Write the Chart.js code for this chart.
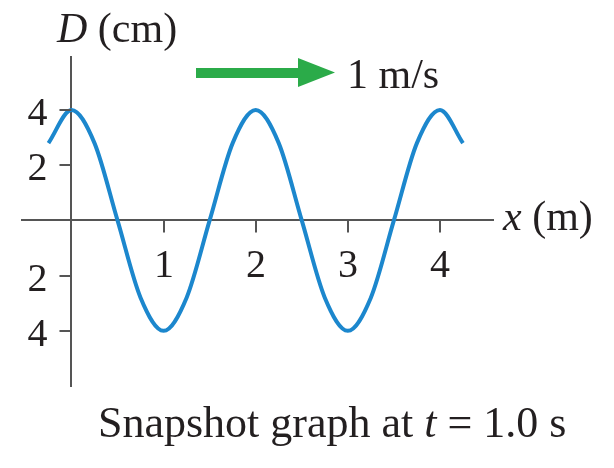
<!DOCTYPE html>
<html lang="en">
<head>
  <meta charset="UTF-8">
  <title>Snapshot graph</title>
  <style>
    body {
      margin: 0;
      padding: 0;
      background-color: #fff;
    }

    canvas {
      display: block;
    }
  </style>
</head>
<body>

  <canvas id="waveChart" width="614" height="468"></canvas>

  <script src="https://cdn.jsdelivr.net/npm/chart.js"></script>
  <script>
    // positions along the string (m) and displacement (cm)
    const positions = [-0.25, 0, 0.25, 0.5, 0.75, 1, 1.25, 1.5, 1.75, 2, 2.25, 2.5, 2.75, 3, 3.25, 3.5, 3.75, 4, 4.25];
    const displacement = [2.8, 4, 2.8, 0, -2.8, -4, -2.8, 0, 2.8, 4, 2.8, 0, -2.8, -4, -2.8, 0, 2.8, 4, 2.8];

    const xTicks = [1, 2, 3, 4];
    const yTicks = [4, 2, -2, -4];

    const serif = "'Liberation Serif', 'DejaVu Serif', serif";
    const axisColor = '#555';
    const textColor = '#231f20';

    // the axes cross at the origin, so Chart.js puts no tick marks or labels
    // beside them; draw those here from the scales
    const crossTicks = {
      id: 'crossTicks',
      afterDraw(chart) {
        const ctx = chart.ctx;
        const xs = chart.scales.x;
        const ys = chart.scales.y;
        const x0 = xs.getPixelForValue(0);
        const y0 = ys.getPixelForValue(0);
        ctx.save();
        ctx.strokeStyle = axisColor;
        ctx.lineWidth = 2;
        ctx.fillStyle = textColor;
        ctx.font = '40px ' + serif;
        ctx.textBaseline = 'alphabetic';

        ctx.textAlign = 'center';
        xTicks.forEach(v => {
          const px = Math.round(xs.getPixelForValue(v));
          ctx.beginPath();
          ctx.moveTo(px, y0);
          ctx.lineTo(px, y0 + 12);
          ctx.stroke();
          ctx.fillText(String(v), px, y0 + 57);
        });

        ctx.textAlign = 'right';
        yTicks.forEach(v => {
          const py = Math.round(ys.getPixelForValue(v));
          ctx.beginPath();
          ctx.moveTo(x0, py);
          ctx.lineTo(x0 - 12, py);
          ctx.stroke();
          ctx.fillText(String(Math.abs(v)), x0 - 24, py + 15);
        });
        ctx.restore();
      }
    };

    // axis titles, velocity arrow and caption
    const labelsPlugin = {
      id: 'labels',
      afterDraw(chart) {
        const ctx = chart.ctx;
        ctx.save();
        ctx.fillStyle = textColor;
        ctx.textBaseline = 'alphabetic';
        ctx.textAlign = 'left';

        function parts(list, x, y) {
          list.forEach(p => {
            ctx.font = p[1] + ' ' + p[2] + 'px ' + serif;
            ctx.fillText(p[0], x, y);
            x += ctx.measureText(p[0]).width;
          });
        }

        parts([['D', 'italic', 42], [' (cm)', 'normal', 42]], 57, 42);
        parts([['x', 'italic', 42], [' (m)', 'normal', 42]], 503, 230);
        parts([['1 m/s', 'normal', 42]], 347, 88);
        parts([['Snapshot graph at ', 'normal', 44], ['t', 'italic', 44], [' = 1.0 s', 'normal', 44]], 98, 437);

        // arrow
        ctx.fillStyle = '#2bab49';
        ctx.fillRect(196, 68, 106, 10);
        ctx.beginPath();
        ctx.moveTo(298, 58);
        ctx.lineTo(335, 72.5);
        ctx.lineTo(298, 87);
        ctx.closePath();
        ctx.fill();
        ctx.restore();
      }
    };

    const ctx = document.getElementById('waveChart').getContext('2d');
    new Chart(ctx, {
      type: 'line',
      data: {
        datasets: [{
          data: positions.map((x, i) => ({ x: x, y: displacement[i] })),
          borderColor: '#1c87cd',
          borderWidth: 4,
          pointRadius: 0,
          cubicInterpolationMode: 'monotone',
          fill: false
        }]
      },
      options: {
        responsive: false,
        animation: false,
        layout: {
          padding: { left: 22, right: 121, top: 57, bottom: 82 }
        },
        plugins: {
          legend: { display: false },
          tooltip: { enabled: false }
        },
        scales: {
          x: {
            type: 'linear',
            min: -0.537,
            max: 4.576,
            position: { y: 0 },
            afterBuildTicks: scale => { scale.ticks = xTicks.map(v => ({ value: v })); },
            border: { color: axisColor, width: 2 },
            grid: { display: false },
            ticks: { display: false }
          },
          y: {
            type: 'linear',
            min: -6.0,
            max: 5.92,
            position: { x: 0 },
            afterBuildTicks: scale => { scale.ticks = yTicks.map(v => ({ value: v })); },
            border: { color: axisColor, width: 2 },
            grid: { display: false },
            ticks: { display: false }
          }
        }
      },
      plugins: [crossTicks, labelsPlugin]
    });
  </script>

</body>
</html>
